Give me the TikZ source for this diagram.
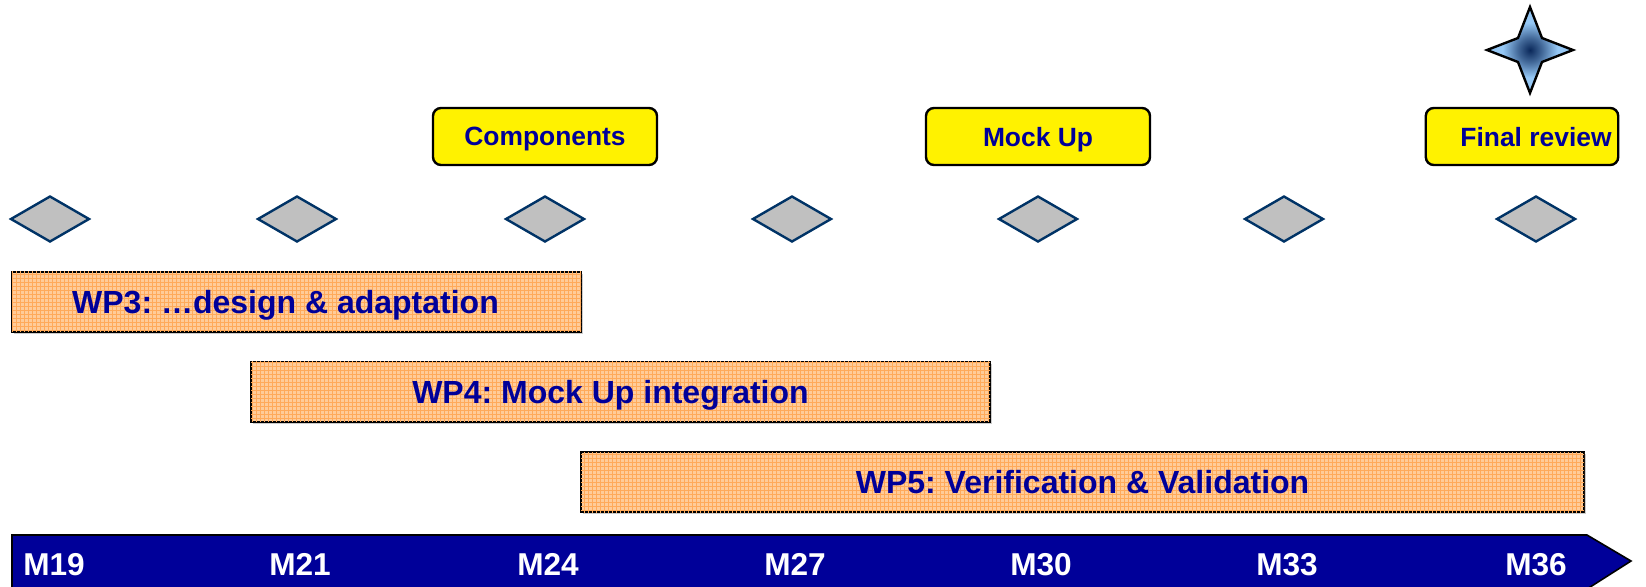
\documentclass[tikz,border=0pt]{standalone}
\usepackage{fontspec}
\setmainfont{Liberation Sans}
\frenchspacing
\usetikzlibrary{shapes.geometric, patterns.meta, shadows}
\definecolor{navy}{RGB}{0,0,153}
\definecolor{peach}{RGB}{255,204,153}
\definecolor{gridorange}{RGB}{255,170,90}
\definecolor{gategray}{RGB}{192,192,192}
\definecolor{gateline}{RGB}{0,51,102}
\definecolor{starlight}{RGB}{150,200,245}
\definecolor{stardark}{RGB}{10,40,90}
\pgfdeclareradialshading{starglow}{\pgfpoint{0bp}{0bp}}{color(0bp)=(stardark); color(7bp)=(stardark!60!starlight); color(16bp)=(starlight); color(50bp)=(starlight)}
\tikzstyle{gate} = [diamond, minimum width=39.5pt, minimum height=23pt, inner sep=0pt, draw=gateline, line width=1.2pt, fill=gategray]
\tikzstyle{milestone} = [rectangle, rounded corners=4pt, minimum width=112pt, minimum height=28.5pt, text depth=0pt, text centered, draw=black, line width=1.2pt, fill=yellow, text=navy, font=\fontsize{13.2}{15}\selectfont\bfseries]
\tikzstyle{wp} = [rectangle, minimum height=30pt, inner sep=0pt, text depth=0pt, draw=black, line width=1pt, fill=peach, drop shadow={shadow xshift=1pt, shadow yshift=-1pt, opacity=0.4}, postaction={pattern={Hatch[angle=0,distance=2pt,line width=0.35pt]}, pattern color=gridorange}, text=navy, font=\fontsize{16}{18}\selectfont\bfseries]
\tikzstyle{month} = [text depth=0pt, text=white, font=\fontsize{15.8}{18}\selectfont\bfseries]

\begin{document}
\begin{tikzpicture}[x=0.5pt, y=-0.5pt, node distance=41.25pt]
\clip (0,0) rectangle (1646,586);
\useasboundingbox (0,0) rectangle (1646,586);

% Quarterly gates
\node (d19) [gate] at (50,219) {};
\node (d21) [gate] at (297,219) {};
\node (d24) [gate] at (545,219) {};
\node (d27) [gate] at (792,219) {};
\node (d30) [gate] at (1038,219) {};
\node (d33) [gate] at (1284,219) {};
\node (d36) [gate] at (1536,219) {};

% Milestones
\node (components) [milestone, above of=d24] {Components};
\node (mockup) [milestone, above of=d30] {Mock Up};
\node (final) [milestone, above of=d36, minimum width=96pt, xshift=-7pt] {\kern14pt Final review};

% Star over the final review
\shadedraw [shading=starglow, draw=black, line width=1.2pt]
  (1530,7) -- (1542,38) -- (1573,50) -- (1542,62) -- (1530,93)
  -- (1518,62) -- (1487,50) -- (1518,38) -- cycle;

% Work packages
\node (wp3) [wp, minimum width=284.5pt] at (296.5,301.5) {WP3: …design \& adaptation\kern11pt};
\node (wp4) [wp, minimum width=369.5pt] at (620.5,391.5) {WP4: Mock Up integration\kern10pt};
\node (wp5) [wp, minimum width=501.5pt] at (1082.5,482) {WP5: Verification \& Validation};

% Time line
\filldraw [fill=navy, draw=black, line width=0.8pt] (12,535) -- (1587,535) -- (1631,561) -- (1587,589) -- (12,589) -- cycle;
\node (m19) [month] at (54,564) {M19};
\node (m21) [month] at (300,564) {M21};
\node (m24) [month] at (548,564) {M24};
\node (m27) [month] at (795,564) {M27};
\node (m30) [month] at (1041,564) {M30};
\node (m33) [month] at (1287,564) {M33};
\node (m36) [month] at (1536,564) {M36};

\end{tikzpicture}
\end{document}
